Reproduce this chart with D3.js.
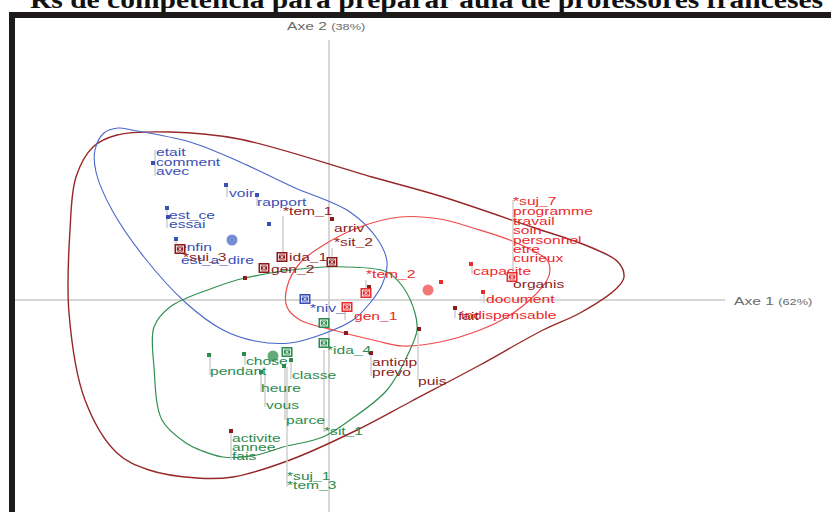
<!DOCTYPE html>
<html><head><meta charset="utf-8">
<script src="https://cdn.jsdelivr.net/npm/d3@7"></script>
<style>body{margin:0;background:#fff;}svg{display:block;}</style>
</head><body>
<svg id="c" width="831" height="512"></svg>
<script>
// ---------- data (factor coordinates: Axe 1, Axe 2) ----------
const title = "Rs de competencia para preparar aula de professores franceses";
const axis1Label = ["Axe 1 ", "(62%)"];
const axis2Label = ["Axe 2 ", "(38%)"];
const classes = ["blue", "red", "darkred", "green"];
const classColors = {blue:"#3a4fb4", red:"#ea2a2c", darkred:"#8c1c1c", green:"#2b8a4c"};
const hullColors = {blue:"#4a66c8", red:"#f04a4a", darkred:"#962828", green:"#2f8f4f"};

const hullDarkred = [[-2.36,1.53],[-2.12,1.65],[-1.59,1.68],[-0.90,1.61],[0.43,1.23],[1.11,1.04],[2.03,0.73],[2.61,0.53],[2.89,0.38],[2.95,0.23],[2.88,0.12],[2.51,-0.13],[2.14,-0.30],[1.51,-0.65],[0.81,-1.02],[0.28,-1.30],[-0.39,-1.60],[-0.96,-1.77],[-1.32,-1.78],[-1.80,-1.70],[-2.12,-1.53],[-2.44,-1.00],[-2.60,-0.13],[-2.59,0.70],[-2.53,1.23]];
const hullBlue = [[-2.34,1.50],[-2.25,1.67],[-2.11,1.72],[-1.97,1.70],[-1.39,1.58],[-0.89,1.38],[-0.36,1.13],[0.21,0.88],[0.49,0.60],[0.58,0.38],[0.53,0.15],[0.41,-0.03],[0.24,-0.20],[-0.06,-0.34],[-0.39,-0.43],[-0.74,-0.41],[-1.06,-0.30],[-1.43,-0.03],[-1.85,0.43],[-2.17,0.90],[-2.33,1.28]];
const hullRed = [[-0.29,0.37],[-0.02,0.57],[0.31,0.73],[0.71,0.83],[1.11,0.81],[1.44,0.72],[1.88,0.57],[2.18,0.40],[2.21,0.30],[2.18,0.20],[2.04,0.03],[1.78,-0.17],[1.51,-0.30],[1.11,-0.42],[0.74,-0.46],[0.48,-0.41],[0.04,-0.30],[-0.29,-0.20],[-0.42,-0.07],[-0.42,0.13]];
const hullGreen = [[-0.84,0.22],[-0.19,0.32],[0.18,0.33],[0.58,0.28],[0.74,0.13],[0.86,-0.13],[0.88,-0.30],[0.81,-0.50],[0.58,-0.90],[0.21,-1.20],[-0.06,-1.37],[-0.46,-1.47],[-0.72,-1.55],[-1.06,-1.57],[-1.29,-1.50],[-1.43,-1.43],[-1.67,-1.20],[-1.75,-0.67],[-1.75,-0.27],[-1.59,-0.07],[-1.16,0.12]];

// small square markers [class, axe1, axe2]
const wordPoints = [
  ["blue",-1.76,1.37],["blue",-1.03,1.15],["blue",-0.72,1.05],["blue",-1.62,0.92],["blue",-1.61,0.83],["blue",-0.60,0.76],["blue",-1.53,0.61],
  ["darkred",0.03,0.81],["darkred",-0.84,0.22],["darkred",0.17,-0.33],["darkred",0.40,0.13],["darkred",0.42,-0.53],["darkred",0.90,-0.29],["darkred",-0.98,-1.31],["darkred",1.26,-0.08],
  ["red",1.42,0.36],["red",1.54,0.08],["red",1.12,0.18],
  ["green",-1.20,-0.55],["green",-0.85,-0.54],["green",-0.38,-0.60],["green",-0.68,-0.72],["green",-0.45,-0.66]
];
// boxed markers (modalities) [class, axe1, axe2]
const modalityPoints = [
  ["blue",-0.24,0.01],
  ["darkred",-1.49,0.51],["darkred",-0.47,0.43],["darkred",-0.65,0.32],["darkred",0.03,0.38],
  ["red",0.37,0.07],["red",0.18,-0.07],["red",1.83,0.23],
  ["green",-0.05,-0.23],["green",-0.05,-0.43],["green",-0.42,-0.52]
];
// class centroids [class, axe1, axe2]
const centroids = [["blue",-0.97,0.60],["red",0.99,0.10],["green",-0.56,-0.56]];

// labels [text, class, axe1, axe2]
const labels = [
  ["etait","blue",-1.73,1.44],["comment","blue",-1.73,1.34],["avec","blue",-1.73,1.25],
  ["voir","blue",-1.00,1.03],["rapport","blue",-0.72,0.94],["est_ce","blue",-1.60,0.81],["essai","blue",-1.60,0.72],
  ["enfin","blue",-1.51,0.49],["est_a_dire","blue",-1.48,0.36],["*niv_","blue",-0.19,-0.12],
  ["*sui_3","darkred",-1.46,0.39],["*tem_1","darkred",-0.46,0.85],["ida_1","darkred",-0.40,0.39],["gen_2","darkred",-0.58,0.27],
  ["arriv","darkred",0.05,0.68],["*sit_2","darkred",0.05,0.54],["anticip","darkred",0.43,-0.66],["prevo","darkred",0.43,-0.76],
  ["puis","darkred",0.89,-0.85],["organis","darkred",1.84,0.12],
  ["*suj_7","red",1.84,0.95],["programme","red",1.84,0.85],["travail","red",1.84,0.75],["soin","red",1.84,0.66],
  ["personnel","red",1.84,0.56],["etre","red",1.84,0.47],["curieux","red",1.84,0.38],["capacite","red",1.44,0.25],
  ["document","red",1.57,-0.03],["indispensable","red",1.32,-0.19],["fait","darkred",1.29,-0.20],["*tem_2","red",0.37,0.22],["gen_1","red",0.25,-0.20],
  ["*ida_4","green",-0.02,-0.54],["chose","green",-0.83,-0.65],["pendant","green",-1.19,-0.75],["classe","green",-0.37,-0.79],
  ["heure","green",-0.68,-0.92],["vous","green",-0.63,-1.09],["parce","green",-0.43,-1.24],["*sit_1","green",-0.05,-1.35],
  ["activite","green",-0.97,-1.42],["annee","green",-0.97,-1.51],["fais","green",-0.97,-1.60],
  ["*suj_1","green",-0.42,-1.80],["*tem_3","green",-0.42,-1.89]
];
// leader lines [axe1, axe2 from, axe2 to]
const leaders = [
  [-1.74,1.50,1.24],[-1.02,1.13,1.03],[-0.72,1.03,0.94],[-1.62,0.90,0.72],[-1.53,0.59,0.49],
  [-0.46,0.84,0.48],[0.03,0.52,0.43],[1.84,1.00,0.28],[1.43,0.34,0.26],[1.55,0.06,-0.03],
  [0.37,0.20,0.12],[0.16,-0.10,-0.20],[0.89,-0.31,-0.80],[0.42,-0.55,-0.76],
  [-1.19,-0.57,-0.75],[-0.84,-0.56,-0.65],[-0.38,-0.62,-0.79],[-0.68,-0.74,-0.92],[-0.64,-0.73,-1.07],
  [-0.44,-0.67,-1.20],[-0.05,-0.50,-1.32],[-0.42,-0.67,-1.87],[-0.98,-1.33,-1.60],[1.26,-0.10,-0.18]
];

// ---------- drawing ----------
const svg = d3.select("#c");
const x = d3.scaleLinear().domain([-3.14, 3.96]).range([15, 725]);
const y = d3.scaleLinear().domain([-2.12, 2.60]).range([512, 40]);
const FS = "'Liberation Sans', Arial, sans-serif";
const SX = 1.42;

// title (clipped at top)
svg.append("text").attr("x", 30).attr("y", 8)
  .attr("font-family", "'Liberation Serif', 'Times New Roman', serif")
  .attr("font-weight", "bold").attr("font-size", 25)
  .attr("textLength", 793).attr("lengthAdjust", "spacingAndGlyphs")
  .attr("fill", "#111").text(title);
// frame
svg.append("rect").attr("x", 9).attr("y", 12).attr("width", 822).attr("height", 6).attr("fill", "#1e1a1a");
svg.append("rect").attr("x", 9).attr("y", 12).attr("width", 6).attr("height", 500).attr("fill", "#1e1a1a");

// axes
svg.append("line").attr("x1", x(0)).attr("x2", x(0)).attr("y1", y(2.60)).attr("y2", y(-2.12))
  .attr("stroke", "#c9c9c9").attr("stroke-width", 1.5);
svg.append("line").attr("x1", x(-3.14)).attr("x2", x(3.96)).attr("y1", y(0)).attr("y2", y(0))
  .attr("stroke", "#c9c9c9").attr("stroke-width", 1.5);

function scaledText(g, str, px, py, size, fill) {
  return g.append("text").attr("transform", `translate(${px},${py}) scale(${SX},1)`)
    .attr("font-family", FS).attr("font-size", size).attr("fill", fill).text(str);
}
const a2 = svg.append("text").attr("transform", `translate(287,30) scale(${SX},1)`)
  .attr("font-family", FS).attr("fill", "#6a6a6a");
a2.append("tspan").attr("font-size", 11).text(axis2Label[0]);
a2.append("tspan").attr("font-size", 9).text(axis2Label[1]);
const a1 = svg.append("text").attr("transform", `translate(${x(3.96)+9},305) scale(${SX},1)`)
  .attr("font-family", FS).attr("fill", "#6a6a6a");
a1.append("tspan").attr("font-size", 11).text(axis1Label[0]);
a1.append("tspan").attr("font-size", 9).text(axis1Label[1]);

// hulls
const line = d3.line().x(d => x(d[0])).y(d => y(d[1])).curve(d3.curveCatmullRomClosed.alpha(0.5));
[["darkred", hullDarkred, 1.4], ["blue", hullBlue, 1.1], ["red", hullRed, 1.2], ["green", hullGreen, 1.2]]
  .forEach(([c, pts, w]) => {
    svg.append("path").attr("d", line(pts)).attr("fill", "none")
      .attr("stroke", hullColors[c]).attr("stroke-width", w);
  });

// leaders
svg.append("g").selectAll("line").data(leaders).join("line")
  .attr("x1", d => x(d[0])).attr("x2", d => x(d[0]))
  .attr("y1", d => y(d[1])).attr("y2", d => y(d[2]))
  .attr("stroke", "#cfcfcf").attr("stroke-width", 1.5);

// centroids
svg.append("g").selectAll("circle").data(centroids).join("circle")
  .attr("cx", d => x(d[1])).attr("cy", d => y(d[2])).attr("r", 5.5)
  .attr("fill", d => hullColors[d[0]]).attr("opacity", 0.75);

// word markers
svg.append("g").selectAll("rect").data(wordPoints).join("rect")
  .attr("x", d => x(d[1]) - 2).attr("y", d => y(d[2]) - 2).attr("width", 4).attr("height", 4)
  .attr("fill", d => classColors[d[0]]);

// labels
const lg = svg.append("g");
labels.forEach(d => scaledText(lg, d[0], x(d[2]), y(d[3]), 11, classColors[d[1]]));

// modality boxes
const bg = svg.append("g");
modalityPoints.forEach(d => {
  const cx = x(d[1]), cy = y(d[2]);
  const g = bg.append("g").attr("transform", `translate(${cx},${cy})`);
  g.append("rect").attr("x", -5.5).attr("y", -5).attr("width", 11).attr("height", 10).attr("fill", classColors[d[0]]);
  g.append("rect").attr("x", -3.5).attr("y", -3).attr("width", 7).attr("height", 6)
    .attr("fill", "none").attr("stroke", "#fff").attr("stroke-width", 0.8);
  g.append("path").attr("d", "M-3.5,-3L3.5,3M3.5,-3L-3.5,3M0,-3V3")
    .attr("stroke", "#fff").attr("stroke-width", 0.7).attr("opacity", 0.9);
});
</script>
</body></html>
